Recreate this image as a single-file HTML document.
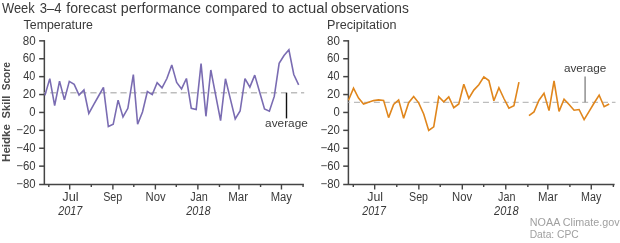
<!DOCTYPE html>
<html><head><meta charset="utf-8"><style>html,body{margin:0;padding:0;background:#fff;} svg{display:block;will-change:transform;}</style></head>
<body>
<svg width="620" height="243" viewBox="0 0 620 243">
<style>text { font-family: "Liberation Sans", sans-serif; }</style>
<rect width="620" height="243" fill="#fff"/>
<line x1="44.35" y1="40.1" x2="44.35" y2="184.4" stroke="#444" stroke-width="1.5"/>
<line x1="39.15" y1="184.4" x2="303.9" y2="184.4" stroke="#444" stroke-width="1.5"/>
<line x1="39.15" y1="40.85" x2="44.35" y2="40.85" stroke="#444" stroke-width="1.5"/>
<line x1="39.15" y1="58.75" x2="44.35" y2="58.75" stroke="#444" stroke-width="1.5"/>
<line x1="39.15" y1="76.65" x2="44.35" y2="76.65" stroke="#444" stroke-width="1.5"/>
<line x1="39.15" y1="94.55" x2="44.35" y2="94.55" stroke="#444" stroke-width="1.5"/>
<line x1="39.15" y1="112.45" x2="44.35" y2="112.45" stroke="#444" stroke-width="1.5"/>
<line x1="39.15" y1="130.35" x2="44.35" y2="130.35" stroke="#444" stroke-width="1.5"/>
<line x1="39.15" y1="148.25" x2="44.35" y2="148.25" stroke="#444" stroke-width="1.5"/>
<line x1="39.15" y1="166.15" x2="44.35" y2="166.15" stroke="#444" stroke-width="1.5"/>
<line x1="48.8" y1="184.4" x2="48.8" y2="187" stroke="#444" stroke-width="1.4"/>
<line x1="69.7" y1="184.4" x2="69.7" y2="189.5" stroke="#444" stroke-width="1.4"/>
<line x1="91.29" y1="184.4" x2="91.29" y2="187" stroke="#444" stroke-width="1.4"/>
<line x1="112.89" y1="184.4" x2="112.89" y2="189.5" stroke="#444" stroke-width="1.4"/>
<line x1="133.79" y1="184.4" x2="133.79" y2="187" stroke="#444" stroke-width="1.4"/>
<line x1="155.38" y1="184.4" x2="155.38" y2="189.5" stroke="#444" stroke-width="1.4"/>
<line x1="176.28" y1="184.4" x2="176.28" y2="187" stroke="#444" stroke-width="1.4"/>
<line x1="197.87" y1="184.4" x2="197.87" y2="189.5" stroke="#444" stroke-width="1.4"/>
<line x1="219.47" y1="184.4" x2="219.47" y2="187" stroke="#444" stroke-width="1.4"/>
<line x1="238.97" y1="184.4" x2="238.97" y2="189.5" stroke="#444" stroke-width="1.4"/>
<line x1="260.57" y1="184.4" x2="260.57" y2="187" stroke="#444" stroke-width="1.4"/>
<line x1="281.46" y1="184.4" x2="281.46" y2="189.5" stroke="#444" stroke-width="1.4"/>
<line x1="303.06" y1="184.4" x2="303.06" y2="187" stroke="#444" stroke-width="1.4"/>
<line x1="44.35" y1="92.75" x2="304.2" y2="92.75" stroke="#bdbdbd" stroke-width="1.4" stroke-dasharray="6.2 3.83" stroke-dashoffset="4.13"/>
<polyline points="44.9,95.4 49.78,78.6 54.66,105.6 59.54,81.1 64.42,99.9 69.3,81.4 74.18,84.3 79.06,95 83.94,90 88.82,113.4 93.7,104.7 98.58,96 103.46,87.3 108.34,126.5 113.22,124.3 118.1,100.1 122.98,116.9 127.86,108.3 133.34,74.6 137.62,124.3 142.5,112 147.38,91.6 152.26,94.6 157.14,82.7 162.02,87.9 166.9,78.5 171.78,64.9 176.66,82.5 181.54,88.9 186.42,78.5 191.3,108.4 196.18,109.5 201.06,63.6 205.94,116.3 210.82,70 215.7,95.3 220.58,120.6 225.46,78.8 230.34,98.85 235.22,118.9 240.1,111 244.98,78.6 249.86,87.1 254.74,75.1 259.62,92.05 264.5,109 269.38,111.2 274.26,96.4 279.14,63.3 284.02,55.5 288.9,49.8 293.78,74.5 298.66,84.8" fill="none" stroke="#7a6cb2" stroke-width="1.6" stroke-linejoin="miter" stroke-miterlimit="3"/>
<line x1="286.5" y1="92.8" x2="286.5" y2="118.4" stroke="#111" stroke-width="1.4"/>
<line x1="348.4" y1="40.1" x2="348.4" y2="184.4" stroke="#444" stroke-width="1.5"/>
<line x1="343.2" y1="184.4" x2="614.6" y2="184.4" stroke="#444" stroke-width="1.5"/>
<line x1="343.2" y1="40.85" x2="348.4" y2="40.85" stroke="#444" stroke-width="1.5"/>
<line x1="343.2" y1="58.75" x2="348.4" y2="58.75" stroke="#444" stroke-width="1.5"/>
<line x1="343.2" y1="76.65" x2="348.4" y2="76.65" stroke="#444" stroke-width="1.5"/>
<line x1="343.2" y1="94.55" x2="348.4" y2="94.55" stroke="#444" stroke-width="1.5"/>
<line x1="343.2" y1="112.45" x2="348.4" y2="112.45" stroke="#444" stroke-width="1.5"/>
<line x1="343.2" y1="130.35" x2="348.4" y2="130.35" stroke="#444" stroke-width="1.5"/>
<line x1="343.2" y1="148.25" x2="348.4" y2="148.25" stroke="#444" stroke-width="1.5"/>
<line x1="343.2" y1="166.15" x2="348.4" y2="166.15" stroke="#444" stroke-width="1.5"/>
<line x1="353.3" y1="184.4" x2="353.3" y2="187" stroke="#444" stroke-width="1.4"/>
<line x1="374.68" y1="184.4" x2="374.68" y2="189.5" stroke="#444" stroke-width="1.4"/>
<line x1="396.76" y1="184.4" x2="396.76" y2="187" stroke="#444" stroke-width="1.4"/>
<line x1="418.85" y1="184.4" x2="418.85" y2="189.5" stroke="#444" stroke-width="1.4"/>
<line x1="440.23" y1="184.4" x2="440.23" y2="187" stroke="#444" stroke-width="1.4"/>
<line x1="462.31" y1="184.4" x2="462.31" y2="189.5" stroke="#444" stroke-width="1.4"/>
<line x1="483.69" y1="184.4" x2="483.69" y2="187" stroke="#444" stroke-width="1.4"/>
<line x1="505.77" y1="184.4" x2="505.77" y2="189.5" stroke="#444" stroke-width="1.4"/>
<line x1="527.86" y1="184.4" x2="527.86" y2="187" stroke="#444" stroke-width="1.4"/>
<line x1="547.81" y1="184.4" x2="547.81" y2="189.5" stroke="#444" stroke-width="1.4"/>
<line x1="569.9" y1="184.4" x2="569.9" y2="187" stroke="#444" stroke-width="1.4"/>
<line x1="591.27" y1="184.4" x2="591.27" y2="189.5" stroke="#444" stroke-width="1.4"/>
<line x1="613.36" y1="184.4" x2="613.36" y2="187" stroke="#444" stroke-width="1.4"/>
<line x1="348.4" y1="102.4" x2="615.5" y2="102.4" stroke="#bdbdbd" stroke-width="1.4" stroke-dasharray="6 3.92" stroke-dashoffset="4.32"/>
<polyline points="348.5,100.3 353.51,88.2 358.53,98.1 363.54,104 368.55,102.3 373.56,100.6 378.58,99.9 383.59,100.4 388.6,117.6 393.62,104.4 398.63,99.9 403.64,118.2 408.66,102.7 413.67,96.6 418.68,102.8 423.69,114 428.71,130.4 433.72,126.8 438.73,96.8 443.75,101.9 448.76,96.9 453.77,107.7 458.79,104 463.8,84.2 468.81,98.3 473.82,90.1 478.84,84.7 483.85,76.8 488.86,80.5 493.88,100.7 498.89,87.7 503.9,98.5 508.92,108.1 513.93,105.7 518.94,82.2" fill="none" stroke="#e0861c" stroke-width="1.6" stroke-linejoin="miter" stroke-miterlimit="3"/>
<polyline points="528.97,115.6 533.98,111.9 538.99,100.2 544.01,93.3 549.02,110.6 554.03,81 559.05,111.4 564.06,99.2 569.07,104.5 574.09,110.2 579.1,109.5 584.11,119.7 589.12,111.35 594.14,103 599.15,95.1 604.16,106.7 609.18,104" fill="none" stroke="#e0861c" stroke-width="1.6" stroke-linejoin="miter" stroke-miterlimit="3"/>
<line x1="585.1" y1="76.5" x2="585.1" y2="102.3" stroke="#888" stroke-width="1.4"/>
<text x="2" y="13.45" font-size="14.0" fill="#3a3a3a" textLength="32.76" lengthAdjust="spacingAndGlyphs">Week</text>
<text x="39.63" y="13.45" font-size="14.0" fill="#3a3a3a" textLength="21.84" lengthAdjust="spacingAndGlyphs">3–4</text>
<text x="66.3" y="13.45" font-size="14.0" fill="#3a3a3a" textLength="50.26" lengthAdjust="spacingAndGlyphs">forecast</text>
<text x="120.85" y="13.45" font-size="14.0" fill="#3a3a3a" textLength="80.12" lengthAdjust="spacingAndGlyphs">performance</text>
<text x="205.25" y="13.45" font-size="14.0" fill="#3a3a3a" textLength="61.96" lengthAdjust="spacingAndGlyphs">compared</text>
<text x="272.1" y="13.45" font-size="14.0" fill="#3a3a3a" textLength="12.35" lengthAdjust="spacingAndGlyphs">to</text>
<text x="288.22" y="13.45" font-size="14.0" fill="#3a3a3a" textLength="39.49" lengthAdjust="spacingAndGlyphs">actual</text>
<text x="330.96" y="13.45" font-size="14.0" fill="#3a3a3a" textLength="77.84" lengthAdjust="spacingAndGlyphs">observations</text>
<text x="23.6" y="28.75" font-size="12.0" fill="#3a3a3a" textLength="69.3" lengthAdjust="spacingAndGlyphs">Temperature</text>
<text x="327.1" y="28.85" font-size="12.0" fill="#3a3a3a" textLength="69.34" lengthAdjust="spacingAndGlyphs">Precipitation</text>
<text x="22.75" y="44.55" font-size="12.2" fill="#3a3a3a" textLength="12.88" lengthAdjust="spacingAndGlyphs">80</text>
<text x="22.67" y="62.45" font-size="12.2" fill="#3a3a3a" textLength="12.56" lengthAdjust="spacingAndGlyphs">60</text>
<text x="23.3" y="80.35" font-size="12.2" fill="#3a3a3a" textLength="12.02" lengthAdjust="spacingAndGlyphs">40</text>
<text x="22.69" y="98.25" font-size="12.2" fill="#3a3a3a" textLength="12.99" lengthAdjust="spacingAndGlyphs">20</text>
<text x="29.25" y="116.15" font-size="12.2" fill="#3a3a3a" textLength="6.27" lengthAdjust="spacingAndGlyphs">0</text>
<text x="16.26" y="134.05" font-size="12.2" fill="#3a3a3a" textLength="19.31" lengthAdjust="spacingAndGlyphs">−20</text>
<text x="16.26" y="151.95" font-size="12.2" fill="#3a3a3a" textLength="19.31" lengthAdjust="spacingAndGlyphs">−40</text>
<text x="16.26" y="169.85" font-size="12.2" fill="#3a3a3a" textLength="19.31" lengthAdjust="spacingAndGlyphs">−60</text>
<text x="16.26" y="187.75" font-size="12.2" fill="#3a3a3a" textLength="19.31" lengthAdjust="spacingAndGlyphs">−80</text>
<text x="327.05" y="44.55" font-size="12.2" fill="#3a3a3a" textLength="12.88" lengthAdjust="spacingAndGlyphs">80</text>
<text x="326.97" y="62.45" font-size="12.2" fill="#3a3a3a" textLength="12.56" lengthAdjust="spacingAndGlyphs">60</text>
<text x="327.6" y="80.35" font-size="12.2" fill="#3a3a3a" textLength="12.02" lengthAdjust="spacingAndGlyphs">40</text>
<text x="326.99" y="98.25" font-size="12.2" fill="#3a3a3a" textLength="12.99" lengthAdjust="spacingAndGlyphs">20</text>
<text x="333.55" y="116.15" font-size="12.2" fill="#3a3a3a" textLength="6.27" lengthAdjust="spacingAndGlyphs">0</text>
<text x="320.56" y="134.05" font-size="12.2" fill="#3a3a3a" textLength="19.31" lengthAdjust="spacingAndGlyphs">−20</text>
<text x="320.56" y="151.95" font-size="12.2" fill="#3a3a3a" textLength="19.31" lengthAdjust="spacingAndGlyphs">−40</text>
<text x="320.56" y="169.85" font-size="12.2" fill="#3a3a3a" textLength="19.31" lengthAdjust="spacingAndGlyphs">−60</text>
<text x="320.56" y="187.75" font-size="12.2" fill="#3a3a3a" textLength="19.31" lengthAdjust="spacingAndGlyphs">−80</text>
<text x="62.32" y="201" font-size="12.0" fill="#3a3a3a" textLength="16.32" lengthAdjust="spacingAndGlyphs">Jul</text>
<text x="103.19" y="201" font-size="12.0" fill="#3a3a3a" textLength="19.15" lengthAdjust="spacingAndGlyphs">Sep</text>
<text x="145.57" y="201" font-size="12.0" fill="#3a3a3a" textLength="20.11" lengthAdjust="spacingAndGlyphs">Nov</text>
<text x="190.2" y="201" font-size="12.0" fill="#3a3a3a" textLength="17.59" lengthAdjust="spacingAndGlyphs">Jan</text>
<text x="228.25" y="201" font-size="12.0" fill="#3a3a3a" textLength="19.89" lengthAdjust="spacingAndGlyphs">Mar</text>
<text x="270.68" y="201" font-size="12.0" fill="#3a3a3a" textLength="21.21" lengthAdjust="spacingAndGlyphs">May</text>
<text x="367.24" y="201" font-size="12.0" fill="#3a3a3a" textLength="15.83" lengthAdjust="spacingAndGlyphs">Jul</text>
<text x="409.04" y="201" font-size="12.0" fill="#3a3a3a" textLength="18.98" lengthAdjust="spacingAndGlyphs">Sep</text>
<text x="452.07" y="201" font-size="12.0" fill="#3a3a3a" textLength="20.11" lengthAdjust="spacingAndGlyphs">Nov</text>
<text x="498.1" y="201" font-size="12.0" fill="#3a3a3a" textLength="17.36" lengthAdjust="spacingAndGlyphs">Jan</text>
<text x="538.08" y="201" font-size="12.0" fill="#3a3a3a" textLength="19.61" lengthAdjust="spacingAndGlyphs">Mar</text>
<text x="581.11" y="201" font-size="12.0" fill="#3a3a3a" textLength="20.3" lengthAdjust="spacingAndGlyphs">May</text>
<text x="58.21" y="214.7" font-size="12.0" font-style="italic" fill="#3a3a3a" textLength="24.22" lengthAdjust="spacingAndGlyphs">2017</text>
<text x="186.31" y="214.7" font-size="12.0" font-style="italic" fill="#3a3a3a" textLength="24.25" lengthAdjust="spacingAndGlyphs">2018</text>
<text x="362.21" y="214.7" font-size="12.0" font-style="italic" fill="#3a3a3a" textLength="23.75" lengthAdjust="spacingAndGlyphs">2017</text>
<text x="494.11" y="214.7" font-size="12.0" font-style="italic" fill="#3a3a3a" textLength="24.52" lengthAdjust="spacingAndGlyphs">2018</text>
<text x="265.14" y="127.2" font-size="11.3" fill="#3a3a3a" textLength="42.64" lengthAdjust="spacingAndGlyphs">average</text>
<text x="563.95" y="71.7" font-size="11.3" fill="#3a3a3a" textLength="42.43" lengthAdjust="spacingAndGlyphs">average</text>
<text x="-90.3" y="9.6" transform="rotate(-90)" font-size="11.5" font-weight="bold" fill="#4a4a4a" textLength="28.22" lengthAdjust="spacingAndGlyphs">Score</text>
<text x="-118.52" y="9.6" transform="rotate(-90)" font-size="11.5" font-weight="bold" fill="#4a4a4a" textLength="22.99" lengthAdjust="spacingAndGlyphs">Skill</text>
<text x="-161.96" y="9.6" transform="rotate(-90)" font-size="11.5" font-weight="bold" fill="#4a4a4a" textLength="37.94" lengthAdjust="spacingAndGlyphs">Heidke</text>
<text x="529.82" y="226.1" font-size="11.0" fill="#a0a0a0" textLength="89.74" lengthAdjust="spacingAndGlyphs">NOAA Climate.gov</text>
<text x="529.66" y="237.5" font-size="11.0" fill="#a0a0a0" textLength="49.12" lengthAdjust="spacingAndGlyphs">Data: CPC</text>
</svg>
</body></html>
